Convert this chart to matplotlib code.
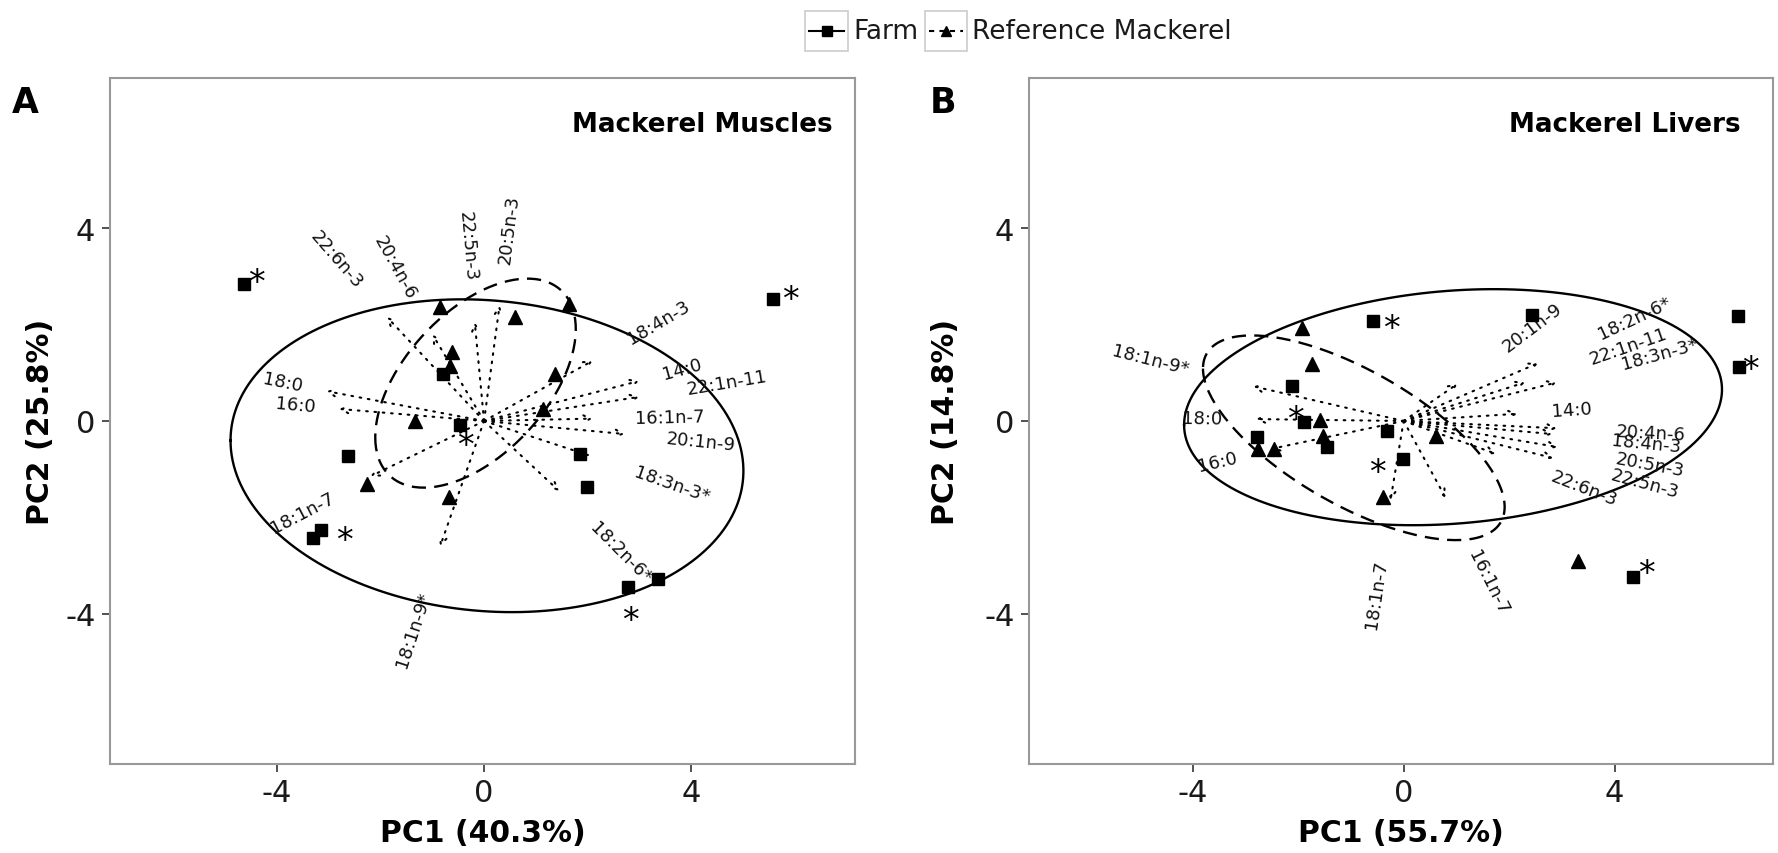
import numpy as np
import matplotlib
matplotlib.use("Agg")
import matplotlib.pyplot as plt
from matplotlib.lines import Line2D
from matplotlib.patches import Rectangle
from matplotlib.font_manager import FontProperties

plt.rcParams['font.family'] = ['DejaVu Sans']
plt.rcParams['axes.unicode_minus'] = False

# Fatty-acid variables (same order in both panels)
fatty_acids = ["22:6n-3", "20:4n-6", "22:5n-3", "20:5n-3", "18:4n-3", "14:0",
               "22:1n-11", "16:1n-7", "20:1n-9", "18:3n-3*", "18:2n-6*",
               "18:1n-9*", "18:1n-7", "18:0", "16:0"]

# ---- Panel A: mackerel muscles ----
muscle_farm_pc1 = [-4.64, 5.59, -0.79, -0.46, -2.63, 1.86, 1.99, -3.15, -3.30, 2.78, 3.37]
muscle_farm_pc2 = [2.84, 2.53, 0.97, -0.08, -0.73, -0.68, -1.37, -2.26, -2.43, -3.44, -3.27]
muscle_ref_pc1 = [-0.85, 0.60, 1.64, -0.62, -0.66, 1.37, 1.14, -1.33, -2.26, -0.68]
muscle_ref_pc2 = [2.36, 2.16, 2.43, 1.43, 1.14, 0.97, 0.25, 0.00, -1.31, -1.58]
muscle_load_pc1 = [-1.88, -1.00, -0.18, 0.30, 2.10, 3.00, 3.00, 2.10, 2.72, 2.05, 1.45, -0.85, -2.20, -3.05, -2.80]
muscle_load_pc2 = [2.16, 1.80, 2.05, 2.40, 1.25, 0.83, 0.50, 0.05, -0.27, -0.72, -1.45, -2.60, -1.15, 0.62, 0.25]
muscle_star_pc1 = [-4.40, 5.92, -0.37, -2.70, 2.82]
muscle_star_pc2 = [3.05, 2.71, -0.33, -2.30, -3.96]

# ---- Panel B: mackerel livers ----
liver_farm_pc1 = [-0.59, -2.12, -1.88, -1.46, -2.78, -0.32, -0.02, 2.44, 6.33, 6.36, 4.34]
liver_farm_pc2 = [2.07, 0.73, -0.02, -0.54, -0.33, -0.21, -0.79, 2.20, 2.17, 1.11, -3.24]
liver_ref_pc1 = [-1.93, -1.74, -1.59, -1.53, -2.76, -2.46, -0.40, 0.61, 3.30]
liver_ref_pc2 = [1.93, 1.18, 0.02, -0.31, -0.58, -0.58, -1.58, -0.31, -2.90]
liver_load_pc1 = [1.75, 2.90, 2.84, 2.92, 2.82, 2.16, 2.30, 0.80, 1.02, 2.90, 2.55, -2.85, -0.25, -2.80, -2.52]
liver_load_pc2 = [-0.68, -0.15, -0.77, -0.54, -0.27, 0.15, 0.80, -1.60, 0.77, 0.80, 1.20, 0.72, -1.65, 0.04, -0.58]
liver_star_pc1 = [-0.23, -2.06, -0.49, 6.58, 4.60]
liver_star_pc2 = [2.11, 0.21, -0.89, 1.25, -2.98]

panels = [
    dict(letter="A", title="Mackerel Muscles", xlabel="PC1 (40.3%)", ylabel="PC2 (25.8%)",
         farm=(muscle_farm_pc1, muscle_farm_pc2), ref=(muscle_ref_pc1, muscle_ref_pc2),
         load=(muscle_load_pc1, muscle_load_pc2), stars=(muscle_star_pc1, muscle_star_pc2),
         adjust=2.2, xlim=(-7.23, 7.17), rect=[110, 79, 855, 765], ylab_x=40, letter_x=12,
         title_x=833),
    dict(letter="B", title="Mackerel Livers", xlabel="PC1 (55.7%)", ylabel="PC2 (14.8%)",
         farm=(liver_farm_pc1, liver_farm_pc2), ref=(liver_ref_pc1, liver_ref_pc2),
         load=(liver_load_pc1, liver_load_pc2), stars=(liver_star_pc1, liver_star_pc2),
         adjust=2.7, xlim=(-7.1, 7.0), rect=[1029, 79, 1773, 765], ylab_x=946, letter_x=930,
         title_x=1741),
]

W, H = 1778, 854
fig = plt.figure(figsize=(W / 100, H / 100), dpi=100, facecolor="white")
renderer = fig.canvas.get_renderer()

ELLIPSE_PROB = 0.68
ed = np.sqrt(-2.0 * np.log(1.0 - ELLIPSE_PROB))   # sqrt(qchisq(p, df=2))


def data_ellipse(x, y, n=200):
    pts = np.column_stack([x, y])
    mu = pts.mean(axis=0)
    sigma = np.cov(pts, rowvar=False)
    R = np.linalg.cholesky(sigma).T
    t = np.linspace(-np.pi, np.pi, n)
    circle = np.column_stack([np.cos(t), np.sin(t)])
    return circle @ R * ed + mu


label_fp = FontProperties(family="DejaVu Sans", size=13)
STAR_FS = 24

for p in panels:
    l, t, r, b = p["rect"]
    ax = fig.add_axes([l / W, 1 - b / H, (r - l) / W, (b - t) / H])
    ax.set_xlim(*p["xlim"])
    ax.set_ylim(-7.11, 7.11)
    ax.set_xticks([-4, 0, 4])
    ax.set_yticks([-4, 0, 4])
    ax.tick_params(direction="out", length=5.5, width=1.2, color="#333333",
                   labelsize=22, labelcolor="#1a1a1a")
    ax.tick_params(axis="x", pad=4.5)
    ax.tick_params(axis="y", pad=5)
    for s in ax.spines.values():
        s.set_color("#999999")
        s.set_linewidth(1.5)

    # loading arrows and their labels
    frac = 0.5 * p["adjust"] - 0.5
    for name, lx, ly in zip(fatty_acids, *p["load"]):
        ax.annotate("", xy=(lx, ly), xytext=(0, 0),
                    arrowprops=dict(arrowstyle="->,head_length=5,head_width=2.5",
                                    mutation_scale=1, shrinkA=0, shrinkB=0,
                                    linestyle=(0, (0.8, 3.2)), lw=1.5, color="black"),
                    zorder=2)
        theta = np.degrees(np.arctan(ly / lx))
        w_px, _, _ = renderer.get_text_width_height_descent(name, label_fp, ismath=False)
        w_pt = w_px * 72 / fig.dpi
        sgn = 1 if lx > 0 else -1
        off = sgn * frac * w_pt
        ax.annotate(name, xy=(lx, ly),
                    xytext=(off * np.cos(np.radians(theta)), off * np.sin(np.radians(theta))),
                    textcoords="offset points", rotation=theta, rotation_mode="anchor",
                    ha="left" if lx > 0 else "right", va="center",
                    fontproperties=label_fp, color="#111111", zorder=4)

    # group ellipses
    fx, fy = p["farm"]
    rx, ry = p["ref"]
    e1 = data_ellipse(fx, fy)
    e2 = data_ellipse(rx, ry)
    ax.plot(e1[:, 0], e1[:, 1], color="black", lw=1.7, ls="-", zorder=3)
    ax.plot(e2[:, 0], e2[:, 1], color="black", lw=1.7, ls=(0, (6, 3.5)), zorder=3)

    # sample scores
    ax.plot(fx, fy, ls="none", marker="s", ms=8.5, color="black", zorder=5)
    ax.plot(rx, ry, ls="none", marker="^", ms=9.5, color="black", zorder=5)

    # significance asterisks
    for sx, sy in zip(*p["stars"]):
        ax.annotate("*", xy=(sx, sy), xytext=(0, -0.55 * STAR_FS), textcoords="offset points",
                    ha="center", va="baseline", fontsize=STAR_FS,
                    color="black", zorder=6)

    # titles and axis labels
    ax.text((p["title_x"] - l) / (r - l), (b - 131.7) / (b - t), p["title"],
            transform=ax.transAxes, ha="right", va="baseline", fontsize=18.8,
            fontweight="bold", color="black")
    ax.set_xlabel(p["xlabel"], fontsize=21.5, fontweight="bold")
    ax.xaxis.set_label_coords(0.5, (b - 834) / (b - t))
    ax.xaxis.label.set_va("center")
    ax.set_ylabel(p["ylabel"], fontsize=21.5, fontweight="bold")
    ax.yaxis.set_label_coords((p["ylab_x"] - l) / (r - l), 0.5)
    ax.yaxis.label.set_va("center")
    fig.text(p["letter_x"] / W, 1 - 113 / H, p["letter"], fontsize=25,
             fontweight="bold", ha="left", va="baseline")

# legend at the top
def fx_(x):
    return x / W


def fy_(y):
    return 1 - y / H


keys = [
    dict(box=(805, 12, 848, 52), ls="-", marker="s", ms=6.5, label="Farm"),
    dict(box=(925, 12, 967, 52), ls=(0, (2.5, 2.5)), marker="^", ms=6.5, label="Reference Mackerel"),
]
for k in keys:
    x0, y0, x1, y1 = k["box"]
    fig.patches.append(Rectangle((fx_(x0), fy_(y1)), (x1 - x0) / W, (y1 - y0) / H,
                                 transform=fig.transFigure, facecolor="white",
                                 edgecolor="#cccccc", lw=1.2))
    ym = (y0 + y1) / 2
    fig.lines.append(Line2D([fx_(x0 + 4), fx_(x1 - 4)], [fy_(ym), fy_(ym)],
                            transform=fig.transFigure, color="black", lw=1.5, ls=k["ls"]))
    fig.lines.append(Line2D([fx_((x0 + x1) / 2)], [fy_(ym)], transform=fig.transFigure,
                            marker=k["marker"], ms=k["ms"], color="black", ls="none"))
    fig.text(fx_(x1 + 5), fy_(ym), k["label"], fontsize=19, ha="left", va="center",
             color="#1a1a1a")

fig.savefig("out.png", dpi=100, facecolor="white")
